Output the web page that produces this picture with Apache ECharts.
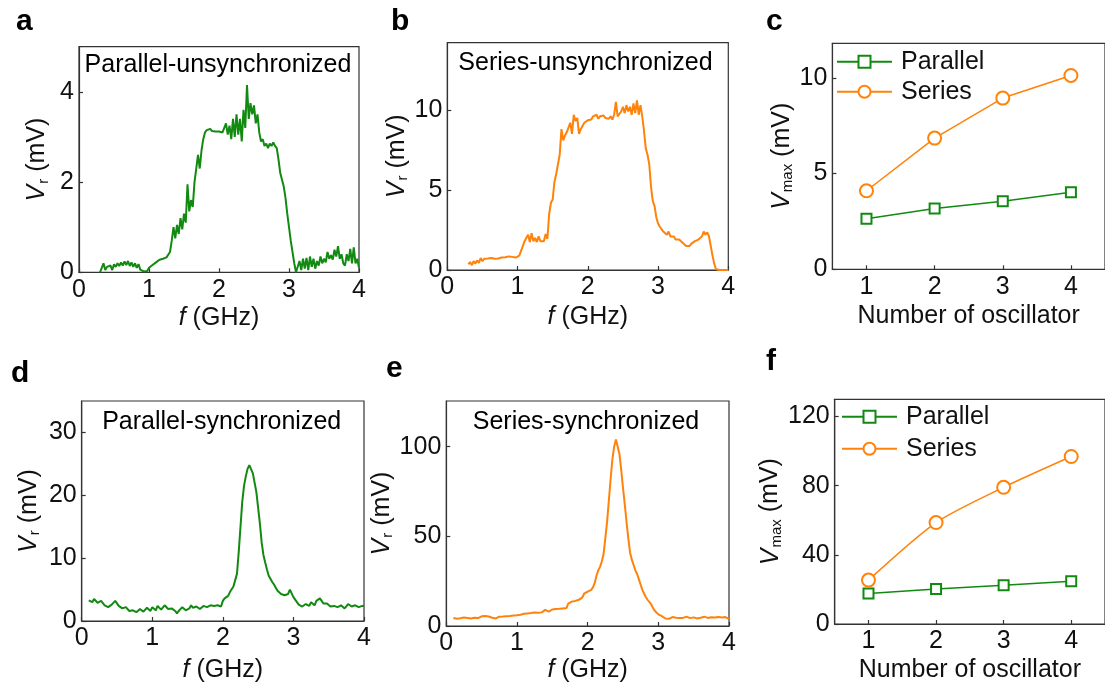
<!DOCTYPE html>
<html><head><meta charset="utf-8">
<script src="https://cdn.jsdelivr.net/npm/echarts@6/dist/echarts.min.js"></script>
<style>html,body{margin:0;padding:0;background:#fff}#c{width:1105px;height:684px}</style>
</head><body><div id="c"></div>
<script>
const FONT = '"Liberation Sans", Arial, Helvetica, sans-serif';
const GREEN = '#128a12';
const ORANGE = '#ff820a';
const INK = '#111';
const FS = 25;

// ---- panel a : Parallel-unsynchronized (f from 0.3 GHz, step 0.025 GHz)
const aStart = 0.3, aStep = 0.025;
const aValues = [
  0.0, 0.02, 0.2, 0.05, 0.12, 0.08, 0.15, 0.05, 0.18, 0.12,
  0.2, 0.14, 0.22, 0.15, 0.24, 0.16, 0.25, 0.14, 0.22, 0.12,
  0.2, 0.1, 0.18, 0.06, 0.1, 0.02, 0.06, 0.03, 0.1, 0.06,
  0.16, 0.12, 0.22, 0.18, 0.28, 0.24, 0.3, 0.27, 0.33, 0.3,
  0.45, 0.7, 1.0, 0.75, 1.05, 0.85, 1.2, 0.95, 1.3, 1.1,
  1.95, 1.35, 1.6, 1.45, 2.0, 2.3, 2.6, 2.3, 2.7, 2.95,
  3.1, 3.15, 3.12, 3.18, 3.13, 3.17, 3.12, 3.15, 3.12, 3.16,
  3.1, 3.2, 3.3, 3.05, 3.25, 2.95, 3.4, 3.0, 3.5, 3.05,
  3.4, 2.9, 3.6, 3.2, 4.15, 3.4, 3.75, 3.5, 3.7, 3.3,
  3.5, 3.1, 2.9, 2.95, 2.8, 2.85, 2.75, 2.85, 2.8, 2.88,
  2.8, 2.75, 2.5, 2.2, 2.05, 1.9, 1.65, 1.3, 1.0, 0.7,
  0.45, 0.2, 0.0, 0.02, 0.25, 0.05, 0.3, 0.08, 0.32, 0.05,
  0.35, 0.12, 0.3, 0.08, 0.25, 0.15, 0.35, 0.2, 0.3, 0.22,
  0.45, 0.3, 0.38, 0.28, 0.5, 0.35, 0.58, 0.3, 0.4, 0.2,
  0.15, 0.4, 0.25, 0.52, 0.2, 0.55, 0.2, 0.3, 0.1
];

// ---- panel b : Series-unsynchronized (f from 0.3 GHz, step 0.025 GHz)
const bStart = 0.3, bStep = 0.025;
const bValues = [
  0.35, 0.5, 0.3, 0.55, 0.4, 0.6, 0.45, 0.75, 0.55, 0.7,
  0.6, 0.72, 0.62, 0.75, 0.65, 0.7, 0.62, 0.72, 0.68, 0.78,
  0.7, 0.8, 0.72, 0.85, 0.75, 0.82, 0.7, 0.78, 0.72, 0.9,
  1.2, 1.5, 1.8, 1.7, 2.2, 1.75, 2.3, 1.8, 2.0, 1.75,
  2.1, 1.8, 1.85, 1.8, 2.25, 1.95, 3.5, 4.2, 4.4, 5.5,
  6.0, 6.1, 7.2, 8.8, 8.1, 8.4, 8.6, 8.9, 9.2, 8.5,
  9.7, 9.3, 9.5, 8.5, 8.8, 9.0, 9.2, 9.3, 9.35, 9.4,
  9.4, 9.6, 9.5, 9.7, 9.45, 9.6, 9.5, 9.65, 9.5, 9.55,
  9.45, 9.6, 9.4, 9.7, 10.5, 9.6, 9.7, 9.9, 10.2, 9.8,
  10.3, 9.9, 10.2, 9.7, 10.4, 9.8, 10.6, 9.7, 10.3, 9.6,
  8.7, 7.6, 7.2, 6.6, 5.2, 4.3, 4.0, 3.3, 2.9, 2.7,
  2.6, 2.4, 2.5, 2.2, 2.4, 2.1, 2.0, 2.1, 1.9, 2.0,
  1.9, 1.8, 1.7, 1.65, 1.5, 1.6, 1.5, 1.65, 1.6, 1.8,
  1.75, 1.9, 1.95, 2.1, 2.4, 2.2, 2.35, 2.1, 1.5, 0.9,
  0.4, 0.05, 0.0, 0.0, 0.0, 0.0, 0.0, 0.0, 0.0
];

// ---- panel d : Parallel-synchronized (f from 0.1 GHz, step 0.025 GHz)
const dStart = 0.1, dStep = 0.025;
const dValues = [
  3.3, 3.1, 3.0, 3.5, 3.4, 2.9, 2.8, 3.2, 2.9, 2.5,
  2.4, 2.2, 2.0, 2.6, 2.5, 3.2, 3.0, 2.4, 2.2, 2.0,
  1.8, 2.2, 2.0, 1.6, 1.3, 1.7, 1.8, 1.4, 1.5, 1.9,
  2.0, 1.5, 1.6, 2.1, 1.8, 1.6, 2.2, 1.9, 1.7, 2.4,
  2.3, 1.8, 2.0, 2.5, 2.2, 1.9, 1.6, 2.0, 2.2, 1.6,
  1.2, 1.6, 1.8, 2.2, 2.0, 1.7, 1.5, 2.0, 2.5, 2.1,
  1.8, 2.3, 2.2, 1.9, 1.9, 2.4, 2.6, 2.2, 2.0, 2.5,
  2.8, 2.4, 2.2, 2.5, 2.6, 2.3, 3.2, 3.6, 3.6, 4.0,
  4.6, 4.7, 5.5, 6.5, 7.5, 11, 15, 19, 21.5, 23,
  24.2, 24.8, 24.9, 23.5, 22, 20.5, 18, 15.5, 12.5, 10.5,
  9.3, 8.2, 7.2, 7.0, 6.2, 5.8, 5.3, 4.8, 4.6, 4.3,
  4.4, 4.1, 4.0, 4.3, 5.0, 4.4, 3.8, 3.8, 3.0, 2.6,
  2.4, 2.3, 2.5, 2.7, 2.8, 2.4, 3.0, 2.8, 2.5, 3.2,
  3.3, 3.6, 3.5, 2.8, 2.5, 2.8, 2.8, 2.3, 2.0, 2.4,
  2.4, 2.2, 2.2, 2.5, 2.6, 2.0, 2.0, 2.7, 2.5, 2.3,
  2.1, 2.5, 2.6, 2.2, 2.0, 2.4, 2.4
];

// ---- panel e : Series-synchronized (f from 0.1 GHz, step 0.025 GHz)
const eStart = 0.1, eStep = 0.025;
const eValues = [
  4.5, 4.2, 4.0, 4.6, 4.3, 3.8, 4.7, 5.2, 4.5, 4.8,
  4.2, 3.9, 4.6, 5.0, 4.4, 4.8, 5.4, 5.0, 5.6, 4.9,
  5.3, 5.0, 4.6, 4.8, 4.2, 4.5, 5.2, 5.6, 5.3, 5.9,
  5.5, 6.0, 5.6, 6.2, 5.8, 6.4, 6.0, 6.6, 6.3, 6.5,
  6.8, 6.4, 7.0, 6.7, 7.2, 6.9, 7.5, 7.0, 7.4, 7.8,
  7.6, 8.2, 9.0, 8.4, 8.0, 8.6, 9.2, 8.8, 9.5, 9.2,
  9.6, 9.0, 9.8, 10.2, 10.0, 12.5, 13.2, 13.6, 13.4, 14.0,
  14.2, 14.6, 15.2, 16.0, 18.0, 18.8, 19.2, 19.6, 20.2, 21.5,
  24, 28, 31, 33, 36, 40, 49, 58, 70, 82,
  93, 100, 104, 103, 96, 87, 77, 68, 58, 49,
  41, 37, 34, 31, 29, 26, 23, 20, 18, 16,
  14.5, 13.5, 12, 10, 8.5, 7.5, 6.5, 5.8, 5.5, 5.0,
  4.2, 4.8, 4.0, 4.5, 5.0, 4.3, 4.6, 3.8, 4.4, 4.9,
  4.5, 4.0, 5.2, 5.5, 4.4, 4.0, 4.8, 3.8, 4.2, 5.0,
  4.6, 4.4, 5.2, 4.8, 4.5, 4.0, 4.9, 4.2, 4.7, 4.4,
  5.0, 4.5, 4.8, 4.3, 5.0, 4.2, 4.0
];

// ---- panels c and f
const oscCount = [1, 2, 3, 4];
const cParallel = [2.64, 3.18, 3.55, 4.02];
const cSeries = [4.10, 6.85, 8.94, 10.12];
const fParallel = [17.6, 20.3, 22.4, 24.8];
const fSeries = [25.4, 58.7, 79.1, 96.9];

// ---- tick labels
const freqTicks = [0, 1, 2, 3, 4];
const oscTicks = [1, 2, 3, 4];
const aYTicks = [0, 2, 4];
const bYTicks = [0, 5, 10];
const cYTicks = [0, 5, 10];
const dYTicks = [0, 10, 20, 30];
const eYTicks = [0, 50, 100];
const fYTicks = [0, 40, 80, 120];

const panelTitles = ['Parallel-unsynchronized', 'Series-unsynchronized', 'Parallel-synchronized', 'Series-synchronized'];
const panelLetters = ['a', 'b', 'c', 'd', 'e', 'f'];
const legendNames = ['Parallel', 'Series'];

function curve(start, step, vals) {
  return vals.map((v, i) => [+(start + i * step).toFixed(4), v]);
}
function pairs(xs, ys) { return xs.map((x, i) => [x, ys[i]]); }

const rich = {
  i: {fontStyle: 'italic', fontSize: FS, fontFamily: FONT, color: INK},
  n: {fontSize: FS, fontFamily: FONT, color: INK},
  s: {fontSize: 15, fontFamily: FONT, color: INK, padding: [12, 0, 0, 1]}
};
const VR = '{i|V}{s|r}{n| (mV)}';
const VMAX = '{i|V}{s|max}{n| (mV)}';
const FGHZ = '{i|f}{n| (GHz)}';
const NOSC = '{n|Number of oscillator}';

const grids = [
  {left: 79, top: 46.7, width: 280, height: 225.6},
  {left: 447.3, top: 42.7, width: 281, height: 227.3},
  {left: 832.4, top: 43.3, width: 279.6, height: 226},
  {left: 81.7, top: 401, width: 282.3, height: 226.3},
  {left: 446.3, top: 401, width: 282.7, height: 226.7},
  {left: 834.7, top: 399.3, width: 282.3, height: 226.4}
].map(g => Object.assign({show: true, borderColor: '#333', borderWidth: 1.2, backgroundColor: 'transparent'}, g));

function axisCommon(ticks) {
  return {
    axisLine: {show: true, onZero: false, lineStyle: {color: '#333', width: 1.2}},
    axisTick: {show: true, inside: true, length: 4, customValues: ticks, lineStyle: {color: '#333', width: 1.2}},
    axisLabel: {customValues: ticks, fontSize: FS, fontFamily: FONT, color: INK, margin: 5},
    splitLine: {show: false},
    nameLocation: 'middle',
    nameTextStyle: {fontSize: FS, fontFamily: FONT, color: INK, rich: rich}
  };
}
function xAx(i, min, max, ticks, name, gap) {
  return Object.assign(axisCommon(ticks), {type: 'value', gridIndex: i, min, max, name, nameGap: gap});
}
function yAx(i, min, max, ticks, name, gap) {
  return Object.assign(axisCommon(ticks), {type: 'value', gridIndex: i, min, max, name, nameGap: gap, nameRotate: 90});
}

const xAxes = [
  xAx(0, 0, 4, freqTicks, FGHZ, 33),
  xAx(1, 0, 4, freqTicks, FGHZ, 35),
  xAx(2, 0.5, 4.5, oscTicks, NOSC, 34),
  xAx(3, 0, 4, freqTicks, FGHZ, 37),
  xAx(4, 0, 4, freqTicks, FGHZ, 32),
  xAx(5, 0.5, 4.5, oscTicks, NOSC, 34)
];
const yAxes = [
  yAx(0, 0, 5, aYTicks, VR, 28),
  yAx(1, 0, 14.2, bYTicks, VR, 26),
  yAx(2, 0, 11.8, cYTicks, VMAX, 26),
  yAx(3, 0, 35, dYTicks, VR, 39),
  yAx(4, 0, 125.5, eYTicks, VR, 35),
  yAx(5, 0, 130, fYTicks, VMAX, 34)
];

function spectrum(idx, data, color) {
  return {type: 'line', xAxisIndex: idx, yAxisIndex: idx, data, symbol: 'none', showSymbol: false,
    lineStyle: {color, width: 2}, itemStyle: {color}, z: 3};
}
function scatterLine(idx, name, data, color, symbol, size, smooth) {
  return {type: 'line', name, xAxisIndex: idx, yAxisIndex: idx, data, symbol, symbolSize: size, showSymbol: true,
    smooth: smooth || false, lineStyle: {color, width: 1.5}, itemStyle: {color, borderColor: color, borderWidth: 2}, z: 3};
}

const series = [
  spectrum(0, curve(aStart, aStep, aValues), GREEN),
  spectrum(1, curve(bStart, bStep, bValues), ORANGE),
  scatterLine(2, legendNames[0], pairs(oscCount, cParallel), GREEN, 'emptyRect', 10),
  scatterLine(2, legendNames[1], pairs(oscCount, cSeries), ORANGE, 'emptyCircle', 13),
  spectrum(3, curve(dStart, dStep, dValues), GREEN),
  spectrum(4, curve(eStart, eStep, eValues), ORANGE),
  scatterLine(5, legendNames[0], pairs(oscCount, fParallel), GREEN, 'emptyRect', 10),
  scatterLine(5, legendNames[1], pairs(oscCount, fSeries), ORANGE, 'emptyCircle', 13, 0.25)
];

function legendAt(left, top, gap) {
  return {data: legendNames, orient: 'vertical', left, top, padding: 0, itemWidth: 55, itemHeight: 15, itemGap: gap,
    selectedMode: false, textStyle: {fontSize: FS, fontFamily: FONT, color: INK, lineHeight: 26, padding: [0, 0, 0, 4]}};
}

function txt(x, y, text, size, weight, align) {
  return {type: 'text', x, y, silent: true, z: 10,
    style: {text, fontSize: size, fontFamily: FONT, fontWeight: weight, fill: '#000',
      align: align, textAlign: align, verticalAlign: 'middle', textVerticalAlign: 'middle'}};
}

const graphic = [
  txt(16, 22, panelLetters[0], 30, 'bold', 'left'),
  txt(391, 22, panelLetters[1], 30, 'bold', 'left'),
  txt(766, 22, panelLetters[2], 30, 'bold', 'left'),
  txt(11, 374, panelLetters[3], 30, 'bold', 'left'),
  txt(386, 369, panelLetters[4], 30, 'bold', 'left'),
  txt(766, 362, panelLetters[5], 30, 'bold', 'left'),
  txt(218, 65, panelTitles[0], FS, 'normal', 'center'),
  txt(585.5, 63, panelTitles[1], FS, 'normal', 'center'),
  txt(221.7, 421.7, panelTitles[2], FS, 'normal', 'center'),
  txt(586, 421.7, panelTitles[3], FS, 'normal', 'center')
];

const chart = echarts.init(document.getElementById('c'), null, {renderer: 'canvas'});
chart.setOption({
  animation: false,
  backgroundColor: '#fff',
  grid: grids,
  xAxis: xAxes,
  yAxis: yAxes,
  legend: [legendAt(836, 48.7, 4), legendAt(841, 403.7, 6)],
  series,
  graphic
});
</script></body></html>
